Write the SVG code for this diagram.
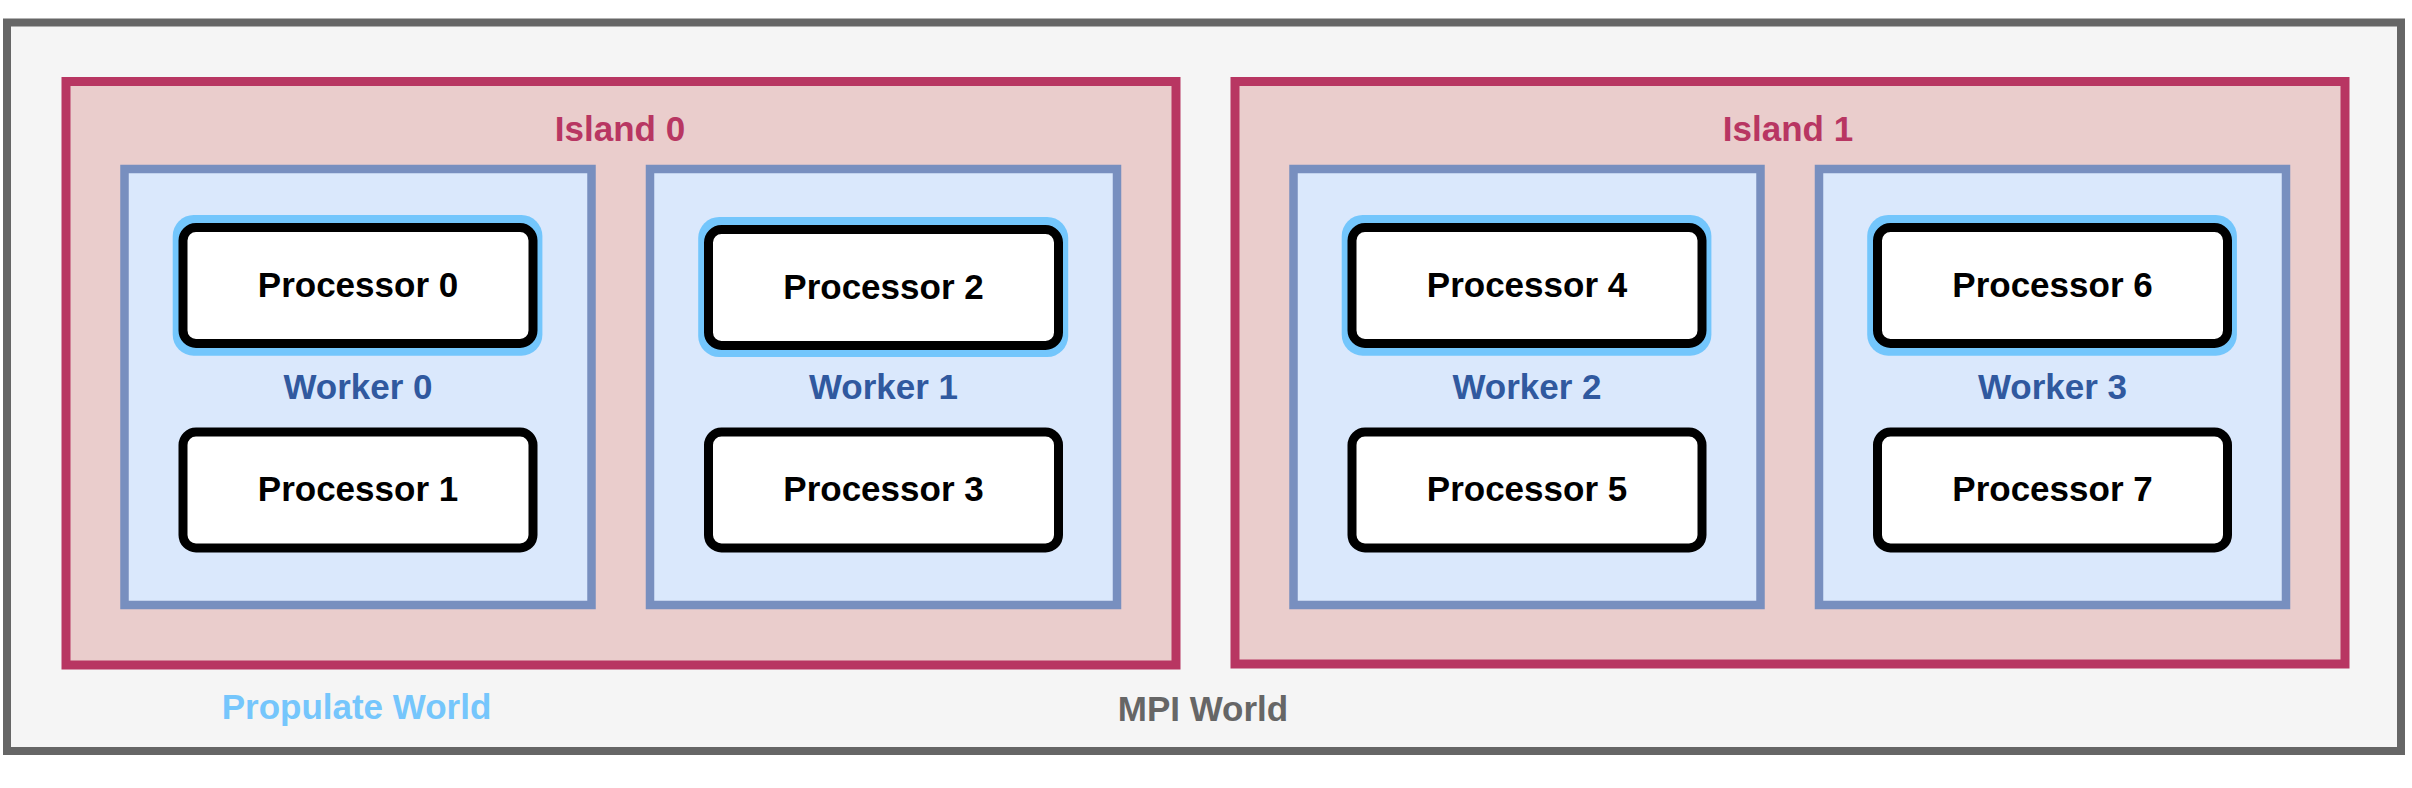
<svg xmlns="http://www.w3.org/2000/svg" width="2412" height="788" viewBox="0 0 2412 788">
<style>
text{font-family:"Liberation Sans",Arial,Helvetica,sans-serif;font-weight:bold;font-size:35px;text-anchor:middle}
.world{fill:#f5f5f5;stroke:#666666;stroke-width:8}
.island{fill:#eacdcc;stroke:#b83662;stroke-width:9}
.worker{fill:#dae8fc;stroke:#788fbf;stroke-width:8.5}
.proc{fill:#ffffff;stroke:#000000;stroke-width:9}
.glow{fill:#73c6fc}
.tw{fill:#666666}
.tp{fill:#75c6fc}
.ti{fill:#b83662}
.tk{fill:#30599f}
.tr{fill:#000000}
</style>
<rect width="2412" height="788" fill="#ffffff"/>
<g id="mpi-world">
<rect class="world" x="7" y="22.5" width="2394" height="728.5"/>
<text class="tw" x="1203" y="721">MPI World</text>
</g>
<g id="propulate-world">
<text class="tp" x="356.5" y="719">Propulate World</text>
</g>
<g id="island-0">
<rect class="island" x="66" y="81.5" width="1110" height="583.5"/>
<text class="ti" x="620" y="141">Island 0</text>
</g>
<g id="island-1">
<rect class="island" x="1235" y="81.5" width="1110" height="582.5"/>
<text class="ti" x="1788" y="141">Island 1</text>
</g>
<g id="worker-0">
<rect class="worker" x="124.5" y="169" width="467" height="436"/>
<text class="tk" x="358" y="398.5">Worker 0</text>
</g>
<g id="worker-1">
<rect class="worker" x="650" y="169" width="467" height="436"/>
<text class="tk" x="883.5" y="398.5">Worker 1</text>
</g>
<g id="worker-2">
<rect class="worker" x="1293.5" y="169" width="467" height="436"/>
<text class="tk" x="1527" y="398.5">Worker 2</text>
</g>
<g id="worker-3">
<rect class="worker" x="1819" y="169" width="467" height="436"/>
<text class="tk" x="2052.5" y="398.5">Worker 3</text>
</g>
<g id="processor-0">
<rect class="glow" x="172.7" y="215" width="369.7" height="140.7" rx="21"/>
<rect class="proc" x="183" y="227.5" width="350" height="116" rx="13"/>
<text class="tr" x="358" y="297">Processor 0</text>
</g>
<g id="processor-1">
<rect class="proc" x="183" y="432" width="350" height="116" rx="13"/>
<text class="tr" x="358" y="501">Processor 1</text>
</g>
<g id="processor-2">
<rect class="glow" x="698.2" y="217" width="370" height="140" rx="21"/>
<rect class="proc" x="708.5" y="229.5" width="350" height="116" rx="13"/>
<text class="tr" x="883.5" y="298.5">Processor 2</text>
</g>
<g id="processor-3">
<rect class="proc" x="708.5" y="432" width="350" height="116" rx="13"/>
<text class="tr" x="883.5" y="501">Processor 3</text>
</g>
<g id="processor-4">
<rect class="glow" x="1341.7" y="215" width="369.7" height="140.7" rx="21"/>
<rect class="proc" x="1352" y="227.5" width="350" height="116" rx="13"/>
<text class="tr" x="1527" y="297">Processor 4</text>
</g>
<g id="processor-5">
<rect class="proc" x="1352" y="432" width="350" height="116" rx="13"/>
<text class="tr" x="1527" y="501">Processor 5</text>
</g>
<g id="processor-6">
<rect class="glow" x="1867.2" y="215" width="369.7" height="140.7" rx="21"/>
<rect class="proc" x="1877.5" y="227.5" width="350" height="116" rx="13"/>
<text class="tr" x="2052.5" y="297">Processor 6</text>
</g>
<g id="processor-7">
<rect class="proc" x="1877.5" y="432" width="350" height="116" rx="13"/>
<text class="tr" x="2052.5" y="501">Processor 7</text>
</g>
</svg>
